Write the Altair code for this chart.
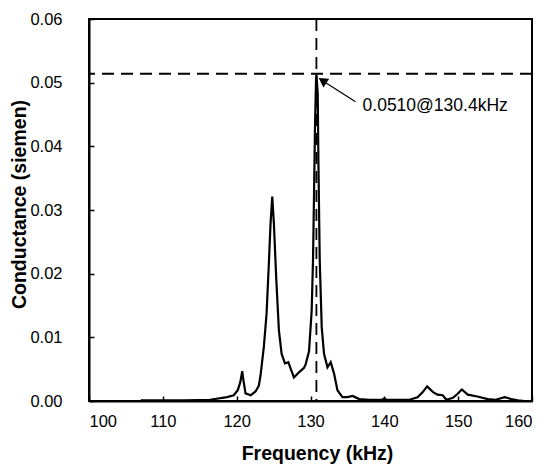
import altair as alt
import pandas as pd

# Conductance spectrum
freq = [107, 110, 113, 116.4, 118.7, 119.6, 120.15, 120.5, 120.75, 120.95, 121.2, 121.9,
        122.55, 123.0, 123.23, 123.68, 124.05, 124.36, 124.59, 124.82, 125.04, 125.37,
        125.72, 126.09, 126.54, 127.0, 127.31, 127.76, 128.44, 129.12, 129.35, 129.8,
        130.16, 130.34, 130.48, 130.61, 130.75, 130.80, 130.98, 131.07, 131.25, 131.52,
        131.83, 132.30, 132.74, 133.19, 133.65, 134.33, 135.0, 135.7, 136.6, 138, 139.7,
        140, 140.3, 142, 143.4, 144.5, 145.2, 145.8, 146.6, 147.2, 147.9, 148.4, 149.3,
        149.9, 150.5, 151.3, 152.6, 154.0, 155.1, 156.3, 157.2, 158.1, 159.0]
cond = [0.0001, 0.0001, 0.0001, 0.0002, 0.0006, 0.0009, 0.0017, 0.0030, 0.0047, 0.0030,
        0.0012, 0.0009, 0.0015, 0.0024, 0.0040, 0.0085, 0.0137, 0.0216, 0.0279, 0.0321,
        0.0279, 0.0190, 0.0111, 0.0074, 0.0059, 0.0061, 0.0051, 0.0037, 0.0045, 0.0052,
        0.0058, 0.0078, 0.0142, 0.0221, 0.0326, 0.0431, 0.0504, 0.0513, 0.0483, 0.0378,
        0.0221, 0.0116, 0.0074, 0.0053, 0.0061, 0.0043, 0.0017, 0.0006, 0.0006, 0.0008,
        0.0003, 0.0002, 0.0002, 0.0004, 0.0002, 0.0002, 0.0002, 0.0006, 0.0014, 0.0023,
        0.0014, 0.0010, 0.0009, 0.0002, 0.0005, 0.0011, 0.0018, 0.0010, 0.0007, 0.0003,
        0.0002, 0.0006, 0.0003, 0.0001, 0.0000]

x_ticks = [100, 110, 120, 130, 140, 150, 160]
y_ticks = [0.0, 0.01, 0.02, 0.03, 0.04, 0.05, 0.06]

peak_freq = [130.8]
peak_cond = [0.0514]
arrow_tail = {"f": 136.1, "v": 0.0470}
arrow_head = {"f": 131.8, "v": 0.0502}
label_pos = {"f": 137.05, "v": 0.0456}
label_text = ["0.0510@130.4kHz"]

FONT = "Liberation Sans"

df = pd.DataFrame({"f": freq, "c": cond})

xs = alt.Scale(domain=[100, 160], nice=False)
ys = alt.Scale(domain=[0, 0.06], nice=False)

x_axis = alt.Axis(values=x_ticks, format="d", title="Frequency (kHz)",
                  tickSize={"expr": "-5"}, labelPadding=17,
                  titleX=228, titleY=52, titleBaseline="middle", titleAlign="center")
y_axis = alt.Axis(values=y_ticks, format=".2f", title="Conductance (siemen)",
                  tickSize={"expr": "-5"}, labelPadding=32,
                  titleX=-70, titleY=185, titleAngle=270,
                  titleBaseline="middle", titleAlign="center")

line = alt.Chart(df).mark_line(color="black", strokeWidth=2.2).encode(
    x=alt.X("f:Q", scale=xs, axis=x_axis),
    y=alt.Y("c:Q", scale=ys, axis=y_axis),
)

hline = alt.Chart(pd.DataFrame({"v": peak_cond})).mark_rule(
    color="black", strokeWidth=1.8, strokeDash=[12, 7]
).encode(y=alt.Y("v:Q", scale=ys))

vline = alt.Chart(pd.DataFrame({"f": peak_freq})).mark_rule(
    color="black", strokeWidth=1.8, strokeDash=[12, 7]
).encode(x=alt.X("f:Q", scale=xs))

arrow_df = pd.DataFrame({"f": [arrow_tail["f"]], "v": [arrow_tail["v"]],
                         "f2": [arrow_head["f"]], "v2": [arrow_head["v"]]})
arrow = alt.Chart(arrow_df).mark_rule(color="black", strokeWidth=1.2).encode(
    x=alt.X("f:Q", scale=xs), y=alt.Y("v:Q", scale=ys), x2="f2:Q", y2="v2:Q"
)
head = alt.Chart(pd.DataFrame({"f": [arrow_head["f"]], "v": [arrow_head["v"]]})).mark_point(
    shape="triangle", filled=True, color="black", size=110, angle=303, opacity=1
).encode(x=alt.X("f:Q", scale=xs), y=alt.Y("v:Q", scale=ys))

label = alt.Chart(pd.DataFrame({"f": [label_pos["f"]], "v": [label_pos["v"]], "t": label_text})).mark_text(
    align="left", baseline="alphabetic", font=FONT, fontSize=17.5, color="black"
).encode(x=alt.X("f:Q", scale=xs), y=alt.Y("v:Q", scale=ys), text="t:N")

chart = alt.layer(vline, hline, line, arrow, head, label).properties(
    width=443, height=382,
    padding={"left": 81, "top": 11, "right": 10, "bottom": 66},
    autosize=alt.AutoSizeParams(type="none"),
).configure_view(
    stroke="black", strokeWidth=2
).configure_axis(
    grid=False, domainColor="black", domainWidth=2, tickColor="black", tickWidth=1.5,
    labelFont=FONT, labelFontSize=16.5, labelColor="black",
    titleFont=FONT, titleFontSize=19.5, titleFontWeight="bold", titleColor="black",
)

chart.save("out.html", embed_options={"renderer": "svg", "actions": False})
